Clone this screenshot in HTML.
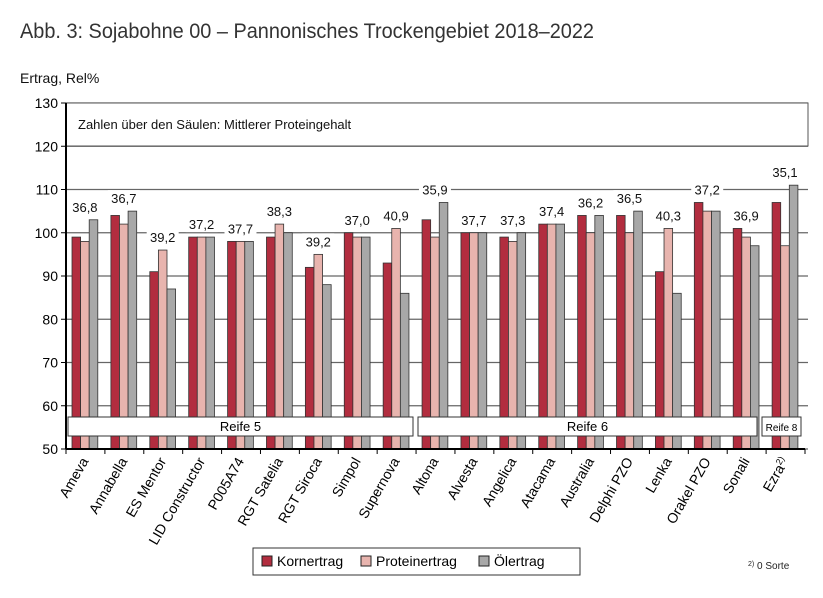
<!DOCTYPE html>
<html><head><meta charset="utf-8"><style>
body{margin:0;background:#fff;font-family:"Liberation Sans",sans-serif;}
svg text{font-family:"Liberation Sans",sans-serif;}
</style></head><body>
<svg width="823" height="593" viewBox="0 0 823 593" xmlns="http://www.w3.org/2000/svg">
<text x="20" y="38" font-size="21" fill="#333" textLength="574" lengthAdjust="spacingAndGlyphs">Abb. 3: Sojabohne 00 – Pannonisches Trockengebiet 2018–2022</text>
<text x="20" y="83" font-size="14" fill="#111">Ertrag, Rel%</text>
<g id="grid"></g>
<rect x="66" y="103" width="742" height="43" fill="#fff" stroke="#555"/>
<text x="78" y="129" font-size="13" fill="#111">Zahlen über den Säulen: Mittlerer Proteingehalt</text>
<g id="bars"></g>
<g id="groups"></g>
<g id="axes"></g>
<g>
<rect x="253" y="548" width="327" height="27" fill="#fff" stroke="#333"/>
<rect x="262" y="556" width="10" height="10" fill="#b22d3f" stroke="#222"/>
<text x="277" y="566" font-size="14">Kornertrag</text>
<rect x="361" y="556" width="10" height="10" fill="#e8b4ae" stroke="#222"/>
<text x="376" y="566" font-size="14">Proteinertrag</text>
<rect x="479" y="556" width="10" height="10" fill="#a8a8a8" stroke="#222"/>
<text x="494" y="566" font-size="14">Ölertrag</text>
</g>
<text x="748" y="569" font-size="10" fill="#222"><tspan font-size="7" dy="-3">2)</tspan><tspan dy="3"> 0 Sorte</tspan></text>
</svg>
<script>
const categories=["Ameva","Annabella","ES Mentor","LID Constructor","P005A74","RGT Satelia","RGT Siroca","Simpol","Supernova","Altona","Alvesta","Angelica","Atacama","Australia","Delphi PZO","Lenka","Orakel PZO","Sonali","Ezra"];
const korn=[99,104,91,99,98,99,92,100,93,103,100,99,102,104,104,91,107,101,107];
const protein=[98,102,96,99,98,102,95,99,101,99,100,98,102,100,100,101,105,99,97];
const oel=[103,105,87,99,98,100,88,99,86,107,100,100,102,104,105,86,105,97,111];
const proteinGehalt=["36,8","36,7","39,2","37,2","37,7","38,3","39,2","37,0","40,9","35,9","37,7","37,3","37,4","36,2","36,5","40,3","37,2","36,9","35,1"];
const yTicks=[50,60,70,80,90,100,110,120,130];
const NS="http://www.w3.org/2000/svg";
const x0=66,x1=805,yTop=103,yBot=449,vMin=50,vMax=130;
const step=(x1-x0)/categories.length, bw=8.6;
function y(v){return yBot-(v-vMin)/(vMax-vMin)*(yBot-yTop);}
function mk(tag,attrs,parent){const e=document.createElementNS(NS,tag);for(const k in attrs)e.setAttribute(k,attrs[k]);parent.appendChild(e);return e;}
const grid=document.getElementById('grid'),bars=document.getElementById('bars'),axes=document.getElementById('axes'),groups=document.getElementById('groups');
yTicks.forEach(t=>{
 const l=mk('line',{x1:x0,x2:808,y1:y(t),y2:y(t),stroke:'#666','stroke-width':1.2},grid);
 
 
 const tx=mk('text',{x:x0-8,y:y(t)+5,'font-size':14,'text-anchor':'end'},axes);
 tx.textContent=t;
 
 
 mk('line',{x1:x0-5,x2:x0,y1:y(t),y2:y(t),stroke:'#000'},axes);
});
const series=[[korn,'#b22d3f','korn'],[protein,'#e8b4ae','protein'],[oel,'#a8a8a8','oel']];
categories.forEach((c,i)=>{
 const gx=x0+i*step+6;
 series.forEach((s,j)=>{
  const v=s[0][i];
  const r=mk('rect',{x:gx+j*bw,y:y(v),width:bw,height:yBot-y(v),fill:s[1],stroke:'#333','stroke-width':0.8},bars);
  
  
 });
 const mx=Math.max(korn[i],protein[i],oel[i]);
 const cx=gx+1.5*bw;
 mk('rect',{x:cx-16,y:y(mx)-21,width:32,height:16,fill:'#fff'},bars);
 const lt=mk('text',{x:cx,y:y(mx)-8,'font-size':13,'text-anchor':'middle',fill:'#111'},bars);
 lt.textContent=proteinGehalt[i];
 
 
 const tk=x0+i*step;
 mk('line',{x1:tk,x2:tk,y1:yBot,y2:yBot+5,stroke:'#000'},axes);
 const lx=cx+4, ly=yBot+12;
 const xl=mk('text',{x:lx,y:ly,'font-size':14,'text-anchor':'end',transform:`rotate(-60 ${lx} ${ly})`},axes);
 xl.textContent=c;
 if(c==='Ezra'){const ts=mk('tspan',{'font-size':9,dy:-5},xl);ts.textContent='2)';}
 
 
});
mk('line',{x1:x0,x2:x1,y1:yBot,y2:yBot,stroke:'#000','stroke-width':2},axes);
mk('line',{x1:x0,x2:x0,y1:yTop,y2:yBot,stroke:'#000','stroke-width':2},axes);
mk('line',{x1:x1,x2:x1,y1:yBot,y2:yBot+5,stroke:'#000'},axes);
[["Reife 5",68,413,13],["Reife 6",418,757,13],["Reife 8",762,801,10]].forEach((g,k)=>{
 const r=mk('rect',{x:g[1],y:417,width:g[2]-g[1],height:19,fill:'#fff',stroke:'#333'},groups);
 
 
 const t=mk('text',{x:(g[1]+g[2])/2,y:431,'font-size':g[3],'text-anchor':'middle'},groups);
 t.textContent=g[0];
 
 
});
</script>
</body></html>
